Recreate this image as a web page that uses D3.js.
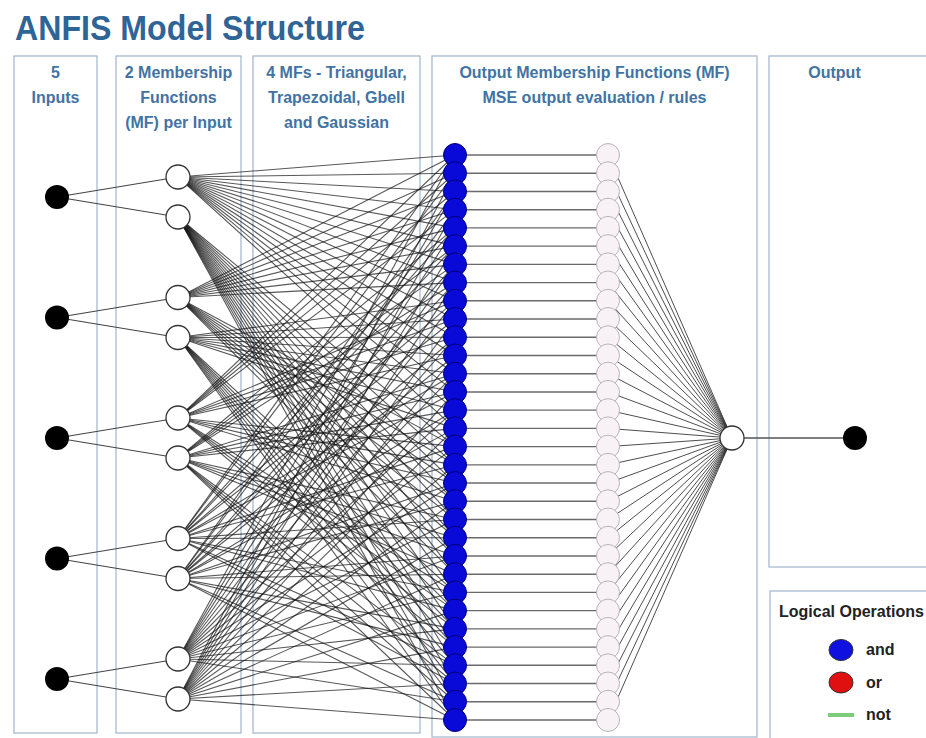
<!DOCTYPE html>
<html>
<head>
<meta charset="utf-8">
<script src="https://d3js.org/d3.v7.min.js"></script>
<style>
 body { margin: 0; background: #fff; }
 .panel { fill: none; stroke: #9fb4cc; stroke-width: 1.2; }
 .head { font-family: "Liberation Sans Narrow", "Arial Narrow", "Liberation Sans", sans-serif; font-weight: bold; font-size: 16px; fill: #4273a3; text-anchor: middle; }
 .legend { font-family: "Liberation Sans Narrow", "Arial Narrow", "Liberation Sans", sans-serif; font-weight: bold; font-size: 16px; fill: #222; }
</style>
</head>
<body>
<script>
 // network structure
 var inputs = ["x1", "x2", "x3", "x4", "x5"];
 var mfsPerInput = ["mf1", "mf2"];
 var ruleCount = 32;
 var rules = d3.range(ruleCount);
 // panel captions
 var headers = [
  ["5", "Inputs"],
  ["2 Membership", "Functions", "(MF) per Input"],
  ["4 MFs - Triangular,", "Trapezoidal, Gbell", "and Gaussian"],
  ["Output Membership Functions (MF)", "MSE output evaluation / rules"],
  ["Output"]
 ];
 var legendLabels = ["and", "or", "not"];
 var legendColors = ["#1010e0", "#e01010", "#7ccc7c"];

 var w = 926, h = 738;
 var svg = d3.select("body").append("svg").attr("width", w).attr("height", h);

 // title
 svg.append("text")
    .attr("x", 15).attr("y", 40)
    .attr("font-family", "'Liberation Sans Narrow', 'Arial Narrow', sans-serif")
    .attr("font-weight", "bold").attr("font-size", 35)
    .attr("fill", "#2f6496")
    .attr("textLength", 350).attr("lengthAdjust", "spacingAndGlyphs")
    .text("ANFIS Model Structure");

 // panels
 var panels = [[14, 97, 733], [116, 241, 733], [253, 420, 733], [432, 757, 737], [769, 940, 567]];
 panels.forEach(function(p, i) {
  svg.append("rect").attr("class", "panel")
     .attr("x", p[0]).attr("y", 56).attr("width", p[1] - p[0]).attr("height", p[2] - 56);
  svg.selectAll(null).data(headers[i]).enter().append("text")
     .attr("class", "head")
     .attr("x", (p[0] + Math.min(p[1], 900)) / 2)
     .attr("y", function(d, j) { return 78 + j * 25; })
     .text(function(d) { return d; });
 });

 // scales
 var xPos = {"in": 57, "mf": 178, "rule": 455, "omf": 608, "agg": 732, "out": 855};
 var yIn = d3.scalePoint().domain(inputs).range([197, 679]);
 var yRule = d3.scalePoint().domain(rules).range([155, 720]);
 var mfOff = d3.scalePoint().domain(mfsPerInput).range([-20, 20]);

 var mfNodes = [];
 inputs.forEach(function(inp, i) {
  mfsPerInput.forEach(function(m, k) {
   mfNodes.push({input: i, mf: k, y: yIn(inp) + mfOff(m), iy: yIn(inp)});
  });
 });

 // links: each rule takes one MF from each input (grid partition)
 var links = [];
 rules.forEach(function(r) {
  inputs.forEach(function(inp, i) {
   var bit = (r >> (inputs.length - 1 - i)) & 1;
   var m = mfNodes[i * 2 + bit];
   links.push({y0: m.y, y1: yRule(r)});
  });
 });

 var g = svg.append("g");
 g.selectAll(".l1").data(links).enter().append("line")
  .attr("x1", xPos.mf).attr("y1", function(d) { return d.y0; })
  .attr("x2", xPos.rule).attr("y2", function(d) { return d.y1; })
  .attr("stroke", "#111").attr("stroke-width", 1.1).attr("stroke-opacity", 0.7);

 g.selectAll(".l0").data(mfNodes).enter().append("line")
  .attr("x1", xPos.in).attr("y1", function(d) { return d.iy; })
  .attr("x2", xPos.mf).attr("y2", function(d) { return d.y; })
  .attr("stroke", "#444").attr("stroke-width", 1.1);

 g.selectAll(".l2").data(rules).enter().append("line")
  .attr("x1", xPos.rule).attr("x2", xPos.omf)
  .attr("y1", function(d) { return yRule(d); }).attr("y2", function(d) { return yRule(d); })
  .attr("stroke", "#6a6a6a").attr("stroke-width", 1.4);

 g.selectAll(".l3").data(rules).enter().append("line")
  .attr("x1", xPos.omf).attr("y1", function(d) { return yRule(d); })
  .attr("x2", xPos.agg).attr("y2", 438)
  .attr("stroke", "#222").attr("stroke-width", 1).attr("stroke-opacity", 0.8);

 g.append("line").attr("x1", xPos.agg).attr("x2", xPos.out)
  .attr("y1", 438).attr("y2", 438).attr("stroke", "#555").attr("stroke-width", 1.4);

 // nodes
 svg.selectAll(".nin").data(inputs).enter().append("circle")
    .attr("cx", xPos.in).attr("cy", function(d) { return yIn(d); }).attr("r", 12)
    .attr("fill", "#000");
 svg.selectAll(".nmf").data(mfNodes).enter().append("circle")
    .attr("cx", xPos.mf).attr("cy", function(d) { return d.y; }).attr("r", 12)
    .attr("fill", "#fff").attr("stroke", "#333").attr("stroke-width", 1.3);
 svg.selectAll(".nr").data(rules).enter().append("circle")
    .attr("cx", xPos.rule).attr("cy", function(d) { return yRule(d); }).attr("r", 11.5)
    .attr("fill", "#0a0ad8").attr("stroke", "#00007a").attr("stroke-width", 1);
 svg.selectAll(".no").data(rules).enter().append("circle")
    .attr("cx", xPos.omf).attr("cy", function(d) { return yRule(d); }).attr("r", 11.5)
    .attr("fill", "#f8f2f6").attr("stroke", "#b8b4b8").attr("stroke-width", 1);
 svg.append("circle").attr("cx", xPos.agg).attr("cy", 438).attr("r", 12)
    .attr("fill", "#fff").attr("stroke", "#333").attr("stroke-width", 1.3);
 svg.append("circle").attr("cx", xPos.out).attr("cy", 438).attr("r", 12)
    .attr("fill", "#000");

 // legend
 svg.append("rect").attr("class", "panel")
    .attr("x", 770).attr("y", 591).attr("width", 180).attr("height", 160);
 svg.append("text").attr("class", "legend")
    .attr("x", 779).attr("y", 617).text("Logical Operations");
 var ly = d3.scalePoint().domain(legendLabels).range([650, 715]);
 legendLabels.forEach(function(l, i) {
  if (l === "not") {
   svg.append("line").attr("x1", 828).attr("x2", 854)
      .attr("y1", ly(l)).attr("y2", ly(l))
      .attr("stroke", legendColors[i]).attr("stroke-width", 4);
  } else {
   svg.append("ellipse").attr("cx", 841).attr("cy", ly(l)).attr("rx", 12).attr("ry", 10.5)
      .attr("fill", legendColors[i]).attr("stroke", "#333").attr("stroke-width", 1);
  }
  svg.append("text").attr("class", "legend")
     .attr("x", 866).attr("y", ly(l) + 5).text(l);
 });
</script>
</body>
</html>
